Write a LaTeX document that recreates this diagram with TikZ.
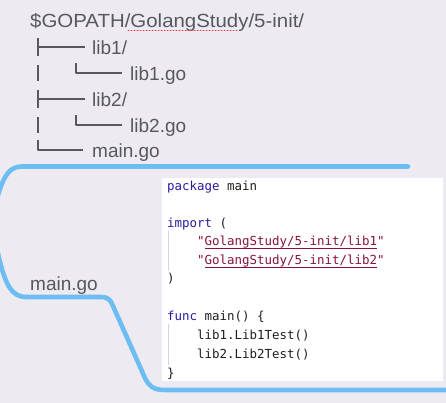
\documentclass[tikz,border=0pt]{standalone}
\usepackage{fontspec}
\usetikzlibrary{calc}
\newfontfamily\treefont{Liberation Sans}
\newfontfamily\codefont{DejaVu Sans Mono}
\definecolor{bgcol}{RGB}{237,234,242}
\definecolor{treegray}{RGB}{88,88,94}
\definecolor{wireblue}{RGB}{108,190,242}
\definecolor{kwblue}{RGB}{38,28,160}
\definecolor{strred}{RGB}{135,20,55}
\definecolor{codeblack}{RGB}{30,30,30}
\definecolor{guidegray}{RGB}{212,212,218}
\definecolor{spellred}{RGB}{230,60,60}
\begin{document}
\begin{tikzpicture}[x=1pt,y=-1pt,line join=round,line cap=round]
	\tikzset{tree/.style={font=\treefont\fontsize{19}{22}\selectfont,text=treegray,anchor=base west,inner sep=0pt},
		code/.style={font=\codefont\fontsize{12.45}{15}\selectfont,text=codeblack,anchor=base west,inner sep=0pt},
		branch/.style={draw=treegray,line width=1.2pt,line cap=butt},
		wire/.style={draw=wireblue,line width=4.6pt}}
	\useasboundingbox (0,0) rectangle (446,403);
	\fill[bgcol] (0,0) rectangle (446,403);
	% directory tree
	\node[tree,xscale=1.075] (root) at (30,28) {\$GOPATH/GolangStudy/5-init/};
	\draw[spellred,dotted,line width=1pt] ($(root.base west)+(98,3)$)--($(root.base west)+(208,3)$);
	\foreach \n/\y in {1/55,2/107}{
		\node[tree] (dir\n) at (92,\y) {lib\n/};
		\node[tree] (file\n) at (130,\y+25.5) {lib\n.go};
		\draw[branch] ($(dir\n.base west)+(-54,-17)$)--($(dir\n.base west)+(-54,1)$);
		\draw[branch] ($(dir\n.base west)+(-54,-8)$)--($(dir\n.base west)+(-7,-8)$);
		\draw[branch] ($(file\n.base west)+(-92,-15)$)--($(file\n.base west)+(-92,0.5)$);
		\draw[branch] ($(file\n.base west)+(-54,-17.5)$)--($(file\n.base west)+(-54,-7.5)$)--($(file\n.base west)+(-8,-7.5)$);
	}
	\node[tree] (maingo) at (92,158) {main.go};
	\draw[branch] ($(maingo.base west)+(-54,-18)$)--($(maingo.base west)+(-54,-8)$)--($(maingo.base west)+(-9,-8)$);
	% code box
	\node[fill=white,minimum width=281pt,minimum height=203pt,inner sep=0pt,anchor=north west] (box) at (162,178) {};
	\node[code] (pkg) at (167,190) {\textcolor{kwblue}{package} main};
	\node[code] (imp) at (167,227) {\textcolor{kwblue}{import} (};
	\foreach \n/\y in {1/245.5,2/264}{
		\node[code,text=strred] (str\n) at (197,\y) {"GolangStudy/5-init/lib\n"};
		\draw[strred,line width=0.9pt,line cap=butt] ([xshift=7.5pt,yshift=-3.2pt]str\n.base west)--([xshift=-7.5pt,yshift=-3.2pt]str\n.base east);
	}
	\node[code] (impend) at (167,282.5) {)};
	\node[code] (fn) at (167,320) {\textcolor{kwblue}{func} main() \{};
	\node[code] (call1) at (197,339) {lib1.Lib1Test()};
	\node[code] (call2) at (197,358) {lib2.Lib2Test()};
	\node[code] (fnend) at (167,377) {\}};
	\draw[guidegray,line width=0.8pt] ([xshift=1pt,yshift=-4pt]imp.base west)--([xshift=1pt,yshift=12pt]impend.base west);
	\draw[guidegray,line width=0.8pt] ([xshift=1pt,yshift=-4pt]fn.base west)--([xshift=1pt,yshift=12pt]fnend.base west);
	% main.go label
	\node[tree] (label) at (30,290) {main.go};
	% blue wire
	\begin{scope}
		\clip (0,0) rectangle (446,403);
		\draw[wire] (408,166.5)--(22,166.5) .. controls (10,166.5) and (4,175) .. (-2,195)
			.. controls (-6,215) and (-6,240) .. (0,262) .. controls (6,285) and (12,297) .. (26,297)
			--(100,297) .. controls (108,297) and (110,299) .. (113,306)
			--(145,378) .. controls (149,386) and (153,390) .. (165,390)--(450,390);
	\end{scope}
\end{tikzpicture}
\end{document}
